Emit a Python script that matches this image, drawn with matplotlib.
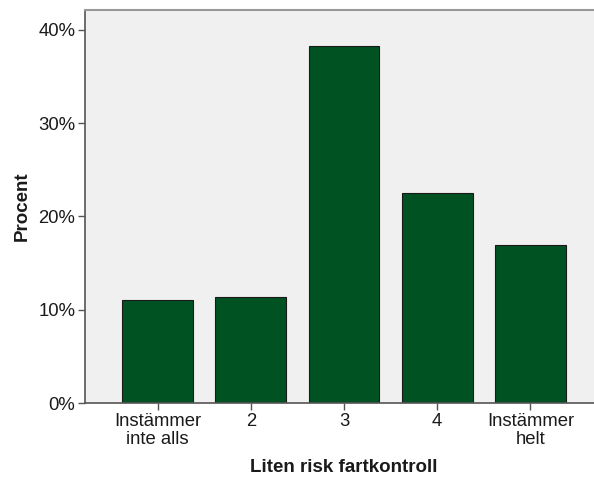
import matplotlib.pyplot as plt
from matplotlib.ticker import FuncFormatter

plt.rcParams['font.family'] = ['Liberation Sans', 'DejaVu Sans']

# data
categories = ["Instämmer\ninte alls", "2", "3", "4", "Instämmer\nhelt"]
percent = [11.05, 11.4, 38.25, 22.5, 16.95]
yticks = [0, 10, 20, 30, 40]

fig = plt.figure(figsize=(5.94, 4.79), dpi=100)
ax = fig.add_axes([85 / 594, 1 - 403.3 / 479, 518 / 594, 393.3 / 479])
ax.set_facecolor('#f0f0f0')

x = range(len(categories))
ax.bar(x, percent, width=0.76, color='#005222', edgecolor='#1a1a1a', linewidth=0.8, zorder=2)

ax.set_xlim(-0.78, 4.78)
ax.set_ylim(0, 42.1)
ax.set_xticks(list(x))
ax.set_xticklabels(categories, linespacing=1.1)
ax.set_yticks(yticks)
ax.yaxis.set_major_formatter(FuncFormatter(lambda v, p: f"{v:.0f}%"))

ax.tick_params(axis='both', direction='out', length=5, width=1, colors='#555555',
               labelsize=13.3, labelcolor='#1a1a1a', pad=2)

for side in ['left', 'bottom']:
    ax.spines[side].set_color('#555555')
    ax.spines[side].set_linewidth(1.2)
ax.spines['top'].set_color('#999999')
ax.spines['top'].set_linewidth(1.5)
ax.spines['right'].set_visible(False)

ax.set_xlabel("Liten risk fartkontroll", fontsize=13.5, fontweight='bold', labelpad=8, color='#1a1a1a')
ax.set_ylabel("Procent", fontsize=13.5, fontweight='bold', labelpad=5, color='#1a1a1a')

fig.savefig("out.png", dpi=100)
